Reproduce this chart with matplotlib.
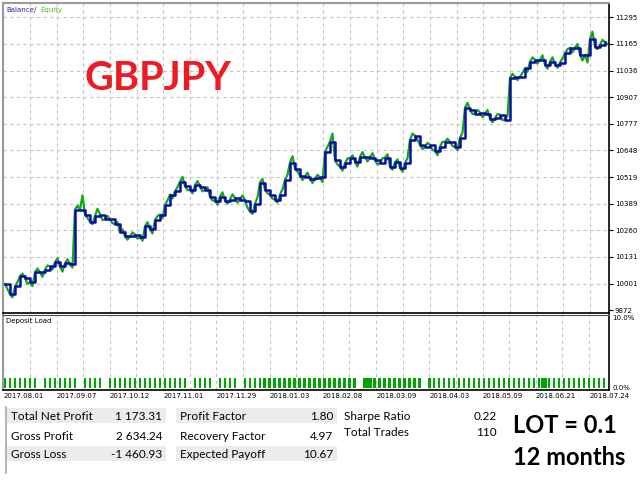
import matplotlib
matplotlib.use("Agg")
import matplotlib.pyplot as plt
import numpy as np
from matplotlib.patches import Rectangle
from matplotlib.lines import Line2D


# balance / equity sampled along the deal axis
balance = [
    10000, 9950, 9988, 10037, 10030, 10008, 10056, 10056, 10070, 10085,
    10105, 10085, 10100, 10095, 10361, 10361, 10337, 10303, 10330, 10337,
    10313, 10313, 10290, 10250, 10231, 10231, 10240, 10226, 10280, 10265,
    10310, 10337, 10385, 10434, 10450, 10497, 10475, 10458, 10480, 10473,
    10455, 10424, 10405, 10424, 10405, 10410, 10417, 10410, 10405, 10352,
    10390, 10492, 10458, 10434, 10410, 10434, 10505, 10589, 10560, 10526,
    10521, 10510, 10512, 10517, 10640, 10691, 10600, 10570, 10585, 10610,
    10594, 10618, 10615, 10613, 10600, 10586, 10613, 10570, 10590, 10565,
    10589, 10700, 10720, 10676, 10667, 10676, 10647, 10667, 10690, 10690,
    10665, 10710, 10856, 10844, 10827, 10832, 10826, 10802, 10805, 10822,
    10798, 11001, 11006, 11006, 11047, 11079, 11088, 11088, 11065, 11079,
    11065, 11075, 11120, 11146, 11146, 11113, 11113, 11190, 11151, 11161,
    11173,
]
equity = [
    9975, 9935, 10010, 10050, 10000, 9990, 10075, 10035, 10090, 10070,
    10125, 10060, 10120, 10080, 10380, 10430, 10320, 10290, 10365, 10310,
    10330, 10295, 10300, 10265, 10215, 10250, 10220, 10210, 10300, 10245,
    10330, 10320, 10405, 10415, 10470, 10520, 10455, 10440, 10500, 10450,
    10470, 10405, 10385, 10445, 10390, 10435, 10395, 10430, 10370, 10340,
    10420, 10510, 10440, 10415, 10395, 10460, 10530, 10620, 10545, 10505,
    10540, 10490, 10530, 10495, 10665, 10730, 10580, 10550, 10610, 10625,
    10570, 10640, 10595, 10635, 10580, 10610, 10630, 10555, 10605, 10545,
    10610, 10730, 10700, 10655, 10685, 10650, 10625, 10690, 10705, 10670,
    10650, 10735, 10880, 10825, 10845, 10810, 10845, 10785, 10825, 10795,
    10815, 11020, 10990, 11025, 11030, 11100, 11070, 11110, 11045, 11100,
    11050, 11095, 11140, 11125, 11165, 11085, 11075, 11225, 11140, 11185,
    11165,
]
deposit_load = [
    1.4, 1.4, 1.4, 1.4, 1.4, 1.4, 1.4, 0, 1.4, 1.4, 1.4,
    1.4, 1.4, 1.4, 1.4, 0, 1.4, 1.4, 1.4, 1.4, 0, 1.4,
    1.4, 1.4, 1.4, 1.4, 1.4, 1.4, 1.4, 1.4, 1.4, 1.4, 1.4,
    1.4, 1.4, 1.4, 1.4, 0, 1.4, 1.4, 1.4, 1.4, 0, 1.4,
    1.4, 1.4, 1.4, 0, 1.4, 1.4, 1.4, 1.4, 1.4, 1.4, 1.4,
    1.4, 1.4, 1.4, 1.4, 1.4, 1.4, 1.4, 1.4, 1.4, 1.4, 1.4,
    1.4, 1.4, 1.4, 1.4, 1.4, 0, 1.4, 1.4, 1.4, 1.4, 1.4,
    1.4, 1.4, 1.4, 1.4, 1.4, 1.4, 1.4, 0, 1.4, 1.4, 1.4,
    1.4, 1.4, 1.4, 1.4, 1.4, 1.4, 1.4, 1.4, 1.4, 1.4, 1.4,
    1.4, 1.4, 1.4, 1.4, 1.4, 1.4, 1.4, 1.4, 1.4, 1.4, 1.4,
    1.4, 1.4, 1.4, 1.4, 1.4, 1.4, 1.4, 1.4, 1.4, 1.4, 1.4,
]
wide_bars = [73, 108]

y_ticks = [9872, 10001, 10131, 10260, 10389, 10519, 10648, 10777, 10907, 11036, 11165, 11295]
date_labels = ["2017.08.01", "2017.09.07", "2017.10.12", "2017.11.01", "2017.11.29", "2018.01.03",
               "2018.02.08", "2018.03.09", "2018.04.03", "2018.05.09", "2018.06.21", "2018.07.24"]

left_names = ["Total Net Profit", "Gross Profit", "Gross Loss"]
left_values = ["1 173.31", "2 634.24", "-1 460.93"]
mid_names = ["Profit Factor", "Recovery Factor", "Expected Payoff"]
mid_values = ["1.80", "4.97", "10.67"]
right_names = ["Sharpe Ratio", "Total Trades"]
right_values = ["0.22", "110"]

W, H = 640, 480
BLUE = "#0c0ca8"
GREEN = "#12a812"
GRID = dict(color="#c4c4c4", lw=0.8, ls=(0, (3, 3)))


def fx(px):
    return px / W


def fy(py):
    return 1 - py / H


fig = plt.figure(figsize=(6.4, 4.8), dpi=100)
fig.patch.set_facecolor("white")

n = len(balance)
idx = np.arange(n)
xlim = ((3 - 5) / 5, (609.3 - 5) / 5)
grid_x = 5 + 5.333 * np.arange(22)
label_x = 3.7 + 10.667 * np.arange(len(date_labels))

# main balance / equity panel
ax1 = fig.add_axes([fx(3), fy(313), fx(609.3) - fx(3), fy(3) - fy(313)])
for gx in grid_x:
    ax1.axvline(gx, zorder=0, **GRID)
for gy in y_ticks[1:]:
    ax1.axhline(gy, zorder=0, **GRID)

ex = np.empty(2 * n)
ey = np.empty(2 * n)
ex[0::2] = idx
ex[1::2] = idx + 0.5
ey[0::2] = balance
ey[1::2] = equity
ax1.plot(ex, ey, color=GREEN, lw=1.6, zorder=2)
ax1.plot(idx, balance, drawstyle="steps-post", color=BLUE, lw=1.8, zorder=3)

ax1.set_xlim(*xlim)
ax1.set_ylim(9859, 11364)
ax1.set_xticks([])
ax1.yaxis.tick_right()
ax1.set_yticks(y_ticks)
ax1.set_yticklabels([str(v) for v in y_ticks])
ax1.tick_params(axis="y", length=3, width=0.8, pad=1, labelsize=5)
for s in ("left", "top"):
    ax1.spines[s].set_color("#9a9a9a")
    ax1.spines[s].set_linewidth(1.5)
for s in ("right", "bottom"):
    ax1.spines[s].set_color("black")
    ax1.spines[s].set_linewidth(1.2)

# deposit load panel
ax2 = fig.add_axes([fx(3), fy(390), fx(609.3) - fx(3), fy(315) - fy(390)])
for gx in grid_x:
    ax2.axvline(gx, zorder=0, **GRID)
widths = [1.2 if i in wide_bars else 0.45 for i in idx]
ax2.bar(idx, deposit_load, width=widths, color="#00a400", zorder=2)
ax2.set_xlim(*xlim)
ax2.set_ylim(-0.29, 10.43)
ax2.set_yticks([])
ax2.set_xticks(label_x)
ax2.set_xticklabels(date_labels)
ax2.tick_params(axis="x", length=0, pad=2, labelsize=5)
ax2.spines["left"].set_color("#9a9a9a")
ax2.spines["left"].set_linewidth(1.5)
ax2.spines["top"].set_color("#505050")
for s in ("right", "bottom"):
    ax2.spines[s].set_color("black")
    ax2.spines[s].set_linewidth(1.2)

# white strip that hides the lower half of the last price label
fig.add_artist(Rectangle((fx(611), fy(322)), fx(640) - fx(611), fy(313.6) - fy(322),
                         transform=fig.transFigure, facecolor="white", edgecolor="none", zorder=2))
fig.text(fx(612), fy(318.5), "10.0%", fontsize=5, va="center", ha="left", zorder=3)
fig.text(fx(612.5), fy(388), "0.0%", fontsize=5, va="center", ha="left", zorder=3,
         bbox=dict(facecolor="white", edgecolor="none", pad=0.6))

fig.text(fx(6), fy(10), "Balance", color="#2828a0", fontsize=5, va="center")
fig.text(fx(34.5), fy(10), "/", color="#303030", fontsize=5, va="center")
fig.text(fx(40.5), fy(10), "Equity", color="#48c030", fontsize=5, va="center")
fig.text(fx(6), fy(321), "Deposit Load", fontsize=5, va="center")

fig.text(fx(157.5), fy(90), "GBPJPY", color="#ed1c24", fontsize=28.5, fontweight="bold",
         family="Lato", ha="center", va="baseline")

# statistics table
left_base = [420.5, 439.5, 458.5]
for r in (0, 2):
    cy = left_base[r] - 5
    for x0, x1 in ((6, 166), (176, 337)):
        fig.add_artist(Rectangle((fx(x0), fy(cy + 7.8)), fx(x1) - fx(x0), fy(cy - 7.8) - fy(cy + 7.8),
                                 transform=fig.transFigure, facecolor="#ececec", edgecolor="none", zorder=1))
fig.add_artist(Line2D([fx(6), fx(6)], [fy(407), fy(473)], transform=fig.transFigure,
                      color="#a8a8a8", lw=1.2))

tf = dict(family="Lato", fontsize=8.5, color="black", va="baseline", zorder=3)
for i in range(3):
    fig.text(fx(11), fy(left_base[i]), left_names[i], ha="left", **tf)
    fig.text(fx(162), fy(left_base[i]), left_values[i], ha="right", **tf)
    fig.text(fx(180), fy(left_base[i]), mid_names[i], ha="left", **tf)
    fig.text(fx(333), fy(left_base[i]), mid_values[i], ha="right", **tf)
right_base = [419.5, 436]
for i in range(2):
    fig.text(fx(344), fy(right_base[i]), right_names[i], ha="left", **tf)
    fig.text(fx(497), fy(right_base[i]), right_values[i], ha="right", **tf)

fig.text(fx(513), fy(432.7), "LOT = 0.1", family="Lato", fontsize=17, fontweight="bold",
         ha="left", va="baseline")
fig.text(fx(513), fy(465), "12 months", family="Lato", fontsize=17, fontweight="bold",
         ha="left", va="baseline")

fig.savefig("out.png", dpi=100)
